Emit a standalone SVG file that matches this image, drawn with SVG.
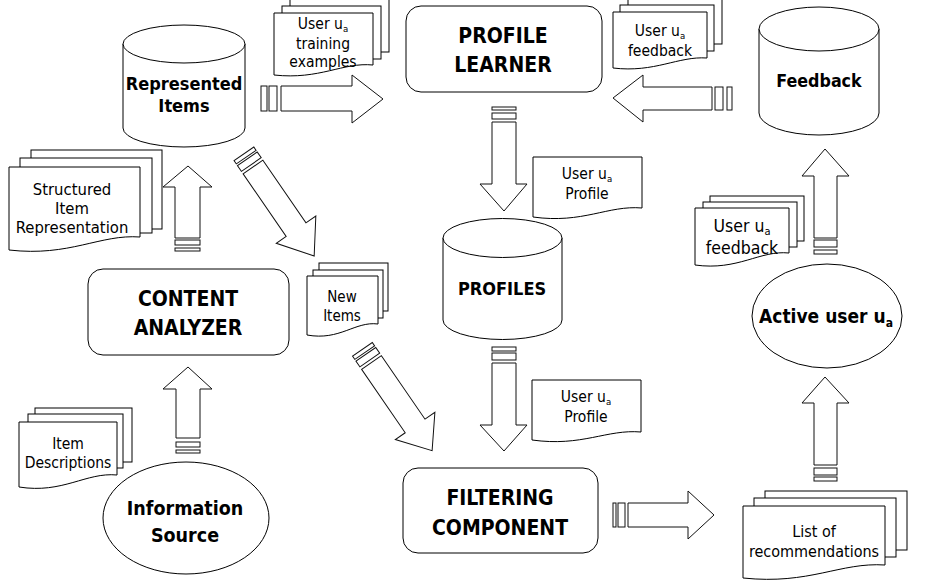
<svg xmlns="http://www.w3.org/2000/svg" width="937" height="581" viewBox="0 0 937 581">
<style>
  .s{fill:#fff;stroke:#000;stroke-width:1}
  .a{fill:#fff;stroke:#111;stroke-width:1}
  text{font-family:"DejaVu Sans Condensed","DejaVu Sans",sans-serif;font-stretch:condensed;fill:#000;text-anchor:middle}
  .t{font-weight:bold;font-size:21px}
  .m{font-weight:bold;font-size:18px}
  .r{font-size:15.5px}
  .sub{font-size:9.5px}
</style>
<rect width="937" height="581" fill="#fff"/>

<g id="connectors">
  <!-- Represented Items -> Profile Learner -->
  <g id="c1">
    <rect class="a" x="261" y="86" width="6" height="25"/>
    <rect class="a" x="269" y="86" width="8" height="25"/>
    <polygon class="a" points="281,86 352,86 352,75 383,99 352,123 352,111 281,111"/>
  </g>
  <!-- Feedback -> Profile Learner -->
  <g id="c2">
    <rect class="a" x="715" y="87" width="8" height="23"/>
    <rect class="a" x="727" y="87" width="5" height="23"/>
    <polygon class="a" points="712,87 643,87 643,75 613,98 643,122 643,110 712,110"/>
  </g>
  <!-- Profile Learner -> Profiles -->
  <g id="c3">
    <rect class="a" x="492" y="107" width="24" height="3"/>
    <rect class="a" x="492" y="113" width="24" height="6"/>
    <polygon class="a" points="492,122 516,122 516,184 527,184 504,211 480,184 492,184"/>
  </g>
  <!-- Profiles -> Filtering -->
  <g id="c4">
    <rect class="a" x="492" y="347" width="24" height="4"/>
    <rect class="a" x="492" y="353" width="24" height="7"/>
    <polygon class="a" points="492,363 516,363 516,425 527,425 504,451 480,425 492,425"/>
  </g>
  <!-- Filtering -> List -->
  <g id="c5">
    <rect class="a" x="613" y="503" width="3" height="24"/>
    <rect class="a" x="618" y="503" width="7" height="24"/>
    <polygon class="a" points="628,503 688,503 688,491 714,515 688,539 688,527 628,527"/>
  </g>
  <!-- List -> Active user -->
  <g id="c6">
    <rect class="a" x="814" y="477" width="23" height="4"/>
    <rect class="a" x="814" y="468" width="23" height="7"/>
    <polygon class="a" points="814,465 814,403 802,403 825,377 849,403 837,403 837,465"/>
  </g>
  <!-- Active user -> Feedback -->
  <g id="c7">
    <rect class="a" x="814" y="250" width="23" height="4"/>
    <rect class="a" x="814" y="240" width="23" height="7"/>
    <polygon class="a" points="814,238 814,176 802,176 825,149 849,176 837,176 837,238"/>
  </g>
  <!-- Content Analyzer -> Represented Items -->
  <g id="c8">
    <rect class="a" x="175" y="248" width="25" height="3"/>
    <rect class="a" x="175" y="240" width="25" height="5"/>
    <polygon class="a" points="175,238 175,187 163,187 188,166 212,187 200,187 200,238"/>
  </g>
  <!-- Information Source -> Content Analyzer -->
  <g id="c9">
    <rect class="a" x="176" y="450" width="24" height="3"/>
    <rect class="a" x="176" y="442" width="24" height="5"/>
    <polygon class="a" points="176,438 176,389 163,389 188,367 212,389 200,389 200,438"/>
  </g>
  <!-- Represented Items -> New Items (diagonal) -->
  <g id="c10" transform="translate(253,167) rotate(55.5)">
    <rect class="a" x="-10" y="-12" width="7" height="24"/>
    <rect class="a" x="-16" y="-12" width="4" height="24"/>
    <polygon class="a" points="0,-12 76,-12 76,-24 108,0 76,24 76,12 0,12"/>
  </g>
  <!-- New Items -> Filtering (diagonal) -->
  <g id="c11" transform="translate(371.5,362.5) rotate(55.5)">
    <rect class="a" x="-10" y="-12" width="7" height="24"/>
    <rect class="a" x="-16" y="-12" width="4" height="24"/>
    <polygon class="a" points="0,-12 77,-12 77,-24 107,0 77,24 77,12 0,12"/>
  </g>
</g>

<!-- Cylinders -->
<g id="represented-items">
  <path class="s" d="M123,44 V128 A61,19 0 0 0 245,128 V44 Z"/>
  <ellipse class="s" cx="184" cy="44" rx="61" ry="19"/>
  <text class="m" x="184" y="90">Represented</text>
  <text class="m" x="184" y="112">Items</text>
</g>
<g id="feedback-db">
  <path class="s" d="M759,29 V113 A60,22 0 0 0 879,113 V29 Z"/>
  <ellipse class="s" cx="819" cy="29" rx="60" ry="22"/>
  <text class="m" x="819" y="87" style="font-size:17.7px">Feedback</text>
</g>
<g id="profiles">
  <path class="s" d="M443,238 V320 A59.5,19.5 0 0 0 562,320 V238 Z"/>
  <ellipse class="s" cx="502.5" cy="238" rx="59.5" ry="19.5"/>
  <text class="m" x="502" y="295">PROFILES</text>
</g>

<!-- Rounded process boxes -->
<g id="profile-learner">
  <rect class="s" x="406" y="6" width="196" height="86" rx="15"/>
  <text class="t" x="503" y="43">PROFILE</text>
  <text class="t" x="503" y="72">LEARNER</text>
</g>
<g id="content-analyzer">
  <rect class="s" x="88" y="269" width="201" height="86" rx="15"/>
  <text class="t" x="188" y="306">CONTENT</text>
  <text class="t" x="188" y="335">ANALYZER</text>
</g>
<g id="filtering-component">
  <rect class="s" x="403" y="468" width="195" height="85" rx="15"/>
  <text class="t" x="500" y="505">FILTERING</text>
  <text class="t" x="500" y="535">COMPONENT</text>
</g>

<!-- Ellipses -->
<g id="information-source">
  <ellipse class="s" cx="186" cy="518" rx="83" ry="56"/>
  <text class="m" x="185" y="515" style="font-size:19.5px">Information</text>
  <text class="m" x="185" y="542" style="font-size:19.5px">Source</text>
</g>
<g id="active-user">
  <ellipse class="s" cx="827" cy="316" rx="75" ry="52"/>
  <text class="m" x="826" y="323" style="font-size:19px">Active user u<tspan dy="4" style="font-size:12px">a</tspan></text>
</g>

<!-- Documents -->
<g id="training-examples">
  <rect class="s" x="290" y="-1" width="99" height="53"/>
  <rect class="s" x="282" y="6" width="99" height="53"/>
  <path class="s" d="M274,75 V13 H373 V65 C343,62 320,80 274,75 Z"/>
  <text class="r" x="323" y="29">User u<tspan class="sub" dy="3">a</tspan></text>
  <text class="r" x="323" y="49">training</text>
  <text class="r" x="323" y="67">examples</text>
</g>
<g id="feedback-top">
  <rect class="s" x="628" y="-2" width="94" height="46"/>
  <rect class="s" x="620" y="5" width="94" height="46"/>
  <path class="s" d="M613,68 V12 H707 V58 C678,56 655,73 613,68 Z"/>
  <text class="r" x="660" y="36">User u<tspan class="sub" dy="3">a</tspan></text>
  <text class="r" x="660" y="56">feedback</text>
</g>
<g id="profile-doc-1">
  <path class="s" d="M533,217 V157 H642 V208 C608,205 583,224 533,217 Z"/>
  <text class="r" x="587" y="179">User u<tspan class="sub" dy="3">a</tspan></text>
  <text class="r" x="587" y="199">Profile</text>
</g>
<g id="profile-doc-2">
  <path class="s" d="M532,440 V380 H641 V432 C607,429 582,447 532,440 Z"/>
  <text class="r" x="586" y="402">User u<tspan class="sub" dy="3">a</tspan></text>
  <text class="r" x="586" y="422">Profile</text>
</g>
<g id="structured-item-representation">
  <rect class="s" x="31" y="150" width="131" height="79"/>
  <rect class="s" x="20" y="158" width="132" height="75"/>
  <path class="s" d="M9,250 V167 H140 V237 C100,234 70,257 9,250 Z"/>
  <text x="72" y="195" style="font-size:16.5px">Structured</text>
  <text x="72" y="214" style="font-size:16.5px">Item</text>
  <text x="72" y="233" style="font-size:16.5px">Representation</text>
</g>
<g id="item-descriptions">
  <rect class="s" x="35" y="408" width="97" height="54"/>
  <rect class="s" x="28" y="414" width="95" height="54"/>
  <path class="s" d="M19,487 V422 H117 V475 C86,472 63,494 19,487 Z"/>
  <text class="r" x="68" y="449">Item</text>
  <text class="r" x="68" y="468">Descriptions</text>
</g>
<g id="new-items">
  <rect class="s" x="319" y="263" width="69" height="48"/>
  <rect class="s" x="313" y="270" width="70" height="48"/>
  <path class="s" d="M307,335 V276 H378 V324 C355,321 340,341 307,335 Z"/>
  <text class="r" x="342" y="302" style="font-size:15px">New</text>
  <text class="r" x="342" y="321" style="font-size:15px">Items</text>
</g>
<g id="list-of-recommendations">
  <rect class="s" x="765" y="491" width="142" height="59"/>
  <rect class="s" x="754" y="498" width="142" height="59"/>
  <path class="s" d="M743,578 V506 H885 V565 C840,562 810,585 743,578 Z"/>
  <text x="814" y="537" style="font-size:16px">List of</text>
  <text x="814" y="557" style="font-size:16px">recommendations</text>
</g>
<g id="feedback-bottom">
  <rect class="s" x="710" y="196" width="94" height="45"/>
  <rect class="s" x="703" y="202" width="94" height="45"/>
  <path class="s" d="M695,265 V208 H789 V253 C760,250 738,271 695,265 Z"/>
  <text x="742" y="232" style="font-size:17.5px">User u<tspan dy="3" style="font-size:11px">a</tspan></text>
  <text x="742" y="254" style="font-size:17.5px">feedback</text>
</g>
</svg>
